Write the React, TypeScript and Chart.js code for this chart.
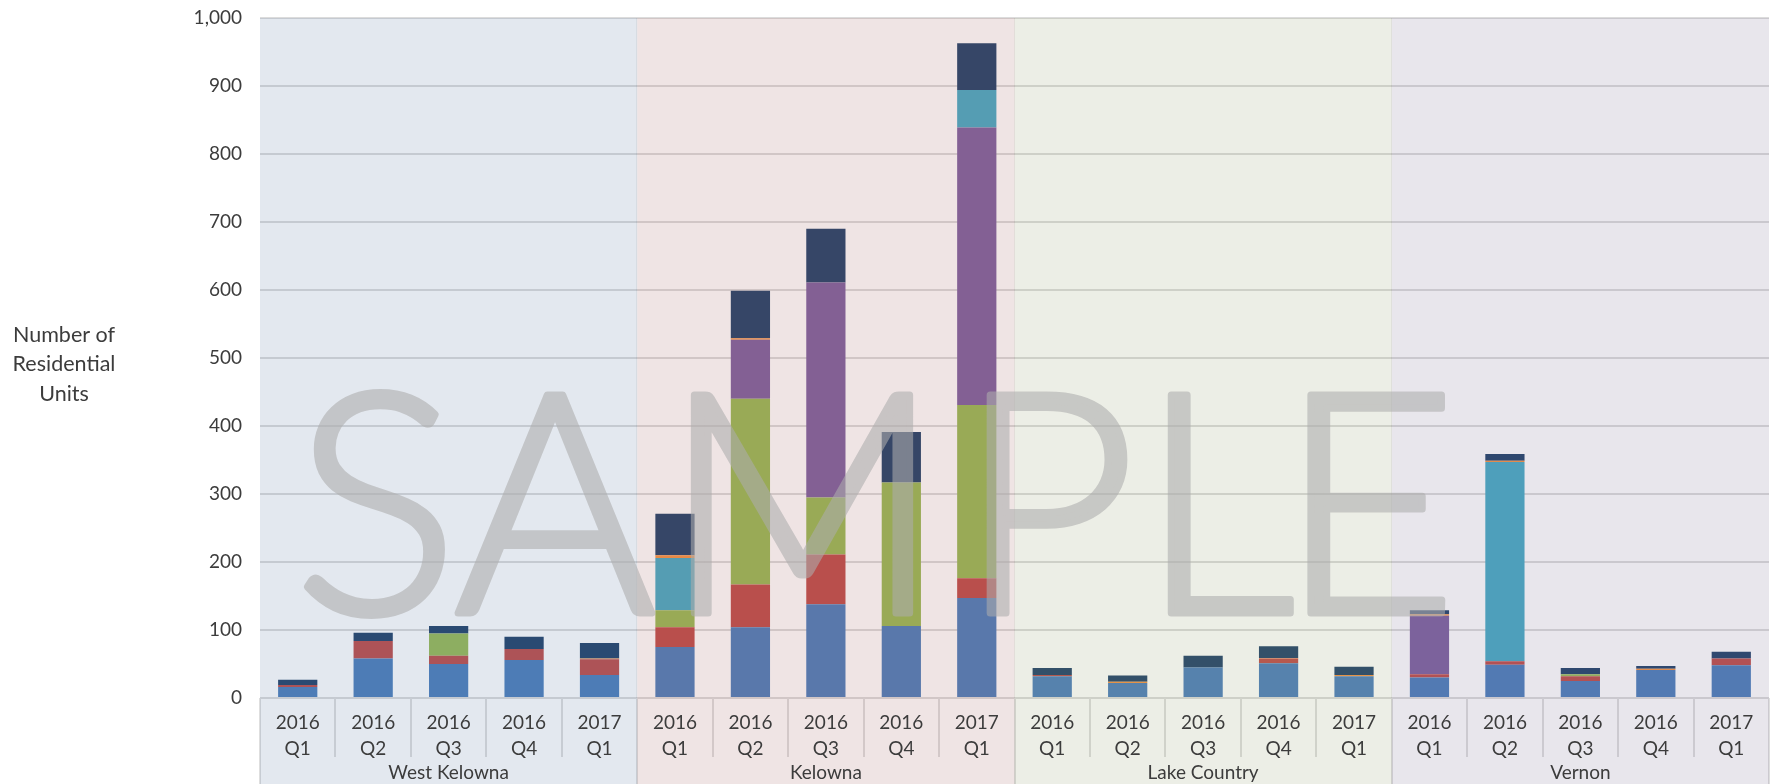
import React, { useEffect, useRef } from "react";
import { Chart, registerables } from "chart.js";

Chart.register(...registerables);

// ---------- data ----------
const groups = ["West Kelowna", "Kelowna", "Lake Country", "Vernon"];
const quarterLabels = [
  ["2016", "Q1"],
  ["2016", "Q2"],
  ["2016", "Q3"],
  ["2016", "Q4"],
  ["2017", "Q1"],
];
const seriesNames = [
  "Single-Detached",
  "Semi-Detached",
  "Row",
  "Apartment",
  "Rental Apartment",
  "Secondary Suite",
  "Other",
];
const singleDetached = [16, 58, 50, 56, 34, 75, 104, 138, 106, 147, 32, 22, 45, 51, 32, 30, 49, 25, 41, 48];
const semiDetached = [3, 26, 12, 16, 23, 29, 63, 73, 0, 29, 2, 0, 0, 7, 0, 5, 5, 7, 0, 10];
const row = [0, 0, 33, 0, 0, 25, 273, 84, 211, 255, 0, 0, 0, 0, 0, 0, 0, 3, 0, 0];
const apartment = [0, 0, 0, 0, 0, 0, 87, 316, 0, 408, 0, 0, 0, 0, 0, 86, 0, 0, 0, 0];
const rentalApartment = [0, 0, 0, 0, 0, 77, 0, 0, 0, 55, 0, 0, 0, 0, 0, 0, 293, 0, 0, 0];
const secondarySuite = [0, 0, 0, 0, 1, 4, 2, 0, 0, 0, 0, 2, 0, 1, 2, 2, 2, 0, 2, 0];
const other = [8, 12, 11, 18, 23, 61, 70, 79, 74, 69, 10, 9, 17, 17, 12, 6, 10, 9, 4, 10];
const seriesValues = [singleDetached, semiDetached, row, apartment, rentalApartment, secondarySuite, other];

const yMax = 1000;
const yStep = 100;
const yTitleLines = ["Number of", "Residential", "Units"];
const watermarkText = "SAMPLE";

// ---------- styles ----------
const seriesColors = ["#4f81bd", "#c0504d", "#9bbb59", "#8064a2", "#4bacc6", "#f79646", "#26466d"];
const groupTints = ["rgb(68,101,148)", "rgb(148,75,75)", "rgb(129,141,88)", "rgb(102,89,128)"];
const tintAlpha = 0.15;
const FONT = "Lato, 'Open Sans', sans-serif";
const TEXT_COLOR = "#3c3c3c";
// watermark letter centres (layout of the decoration)
const wmCenters = [376, 555, 802, 1047, 1217, 1368];
const wmFontSize = 308;
const wmBaseline = 613;

const perGroup = quarterLabels.length;
const xLabels = groups.flatMap(() => quarterLabels);

const bandsPlugin = {
  id: "bands",
  beforeDatasetsDraw(chart: any) {
    const { ctx, chartArea } = chart;
    const n = xLabels.length;
    const catW = (chartArea.right - chartArea.left) / n;
    ctx.save();
    ctx.strokeStyle = "#dedede";
    ctx.lineWidth = 2;
    for (let i = 0; i <= n; i++) {
      const x = Math.round(chartArea.left + i * catW);
      const isGroup = i % perGroup === 0;
      ctx.beginPath();
      ctx.moveTo(x, chartArea.bottom);
      ctx.lineTo(x, isGroup ? chart.height : chartArea.bottom + 59);
      ctx.stroke();
    }
    ctx.restore();
  },
  afterDatasetsDraw(chart: any) {
    const { ctx, chartArea } = chart;
    const n = xLabels.length;
    const catW = (chartArea.right - chartArea.left) / n;
    ctx.save();
    groups.forEach((g, gi) => {
      const x0 = chartArea.left + gi * perGroup * catW;
      const x1 = x0 + perGroup * catW;
      ctx.globalAlpha = tintAlpha;
      ctx.fillStyle = groupTints[gi];
      ctx.fillRect(x0, chartArea.top, x1 - x0, chart.height - chartArea.top);
      ctx.globalAlpha = 0.05;
      ctx.fillStyle = "#000";
      if (gi > 0) ctx.fillRect(Math.round(x0) - 1, chartArea.top, 1, chartArea.bottom - chartArea.top);
    });
    ctx.restore();
  },
  afterDraw(chart: any) {
    const { ctx, chartArea } = chart;
    const n = xLabels.length;
    const catW = (chartArea.right - chartArea.left) / n;
    ctx.save();
    // group labels
    ctx.fillStyle = TEXT_COLOR;
    ctx.font = `19px ${FONT}`;
    ctx.textAlign = "center";
    ctx.textBaseline = "middle";
    groups.forEach((g, gi) => {
      const cx = chartArea.left + (gi + 0.5) * perGroup * catW;
      ctx.fillText(g, cx, chartArea.bottom + 75);
    });
    // y title
    ctx.font = `21.5px ${FONT}`;
    yTitleLines.forEach((t, i) => {
      ctx.fillText(t, 64, 335 + i * 29.5);
    });
    ctx.restore();

    // watermark: drawn opaque offscreen, composited with transparency
    const off = document.createElement("canvas");
    off.width = chart.width;
    off.height = chart.height;
    const o = off.getContext("2d");
    if (!o) return;
    o.font = `300 ${wmFontSize}px ${FONT}`;
    o.textAlign = "center";
    o.textBaseline = "alphabetic";
    o.fillStyle = "#adadad";
    o.strokeStyle = "#adadad";
    o.lineWidth = 7;
    o.lineJoin = "round";
    watermarkText.split("").forEach((ch, i) => {
      o.fillText(ch, wmCenters[i], wmBaseline);
      o.strokeText(ch, wmCenters[i], wmBaseline);
    });
    ctx.save();
    ctx.globalAlpha = 0.58;
    ctx.drawImage(off, 0, 0);
    ctx.restore();
  },
};

export default function App() {
  const ref = useRef<HTMLCanvasElement>(null);
  useEffect(() => {
    if (!ref.current) return;
    const chart = new Chart(ref.current, {
      type: "bar",
      data: {
        labels: xLabels,
        datasets: seriesValues.map((vals, i) => ({
          label: seriesNames[i],
          data: vals,
          backgroundColor: seriesColors[i],
          borderWidth: 0,
          barPercentage: 0.52,
          categoryPercentage: 1,
        })),
      },
      options: {
        animation: false,
        responsive: false,
        maintainAspectRatio: false,
        layout: { padding: { top: 18, right: 7, left: 0, bottom: 0 } },
        plugins: { legend: { display: false }, tooltip: { enabled: false } },
        scales: {
          x: {
            stacked: true,
            grid: { display: false },
            border: { display: false },
            ticks: {
              z: 1,
              color: TEXT_COLOR,
              font: { family: FONT, size: 19, lineHeight: 26 / 19 },
              padding: 4,
              maxRotation: 0,
              autoSkip: false,
            },
            afterFit: (s: any) => {
              s.height = 86;
              s.paddingLeft = 0;
              s.paddingRight = 0;
            },
          },
          y: {
            stacked: true,
            min: 0,
            max: yMax,
            ticks: {
              stepSize: yStep,
              z: 1,
              padding: 18,
              color: TEXT_COLOR,
              font: { family: FONT, size: 19 },
            },
            grid: { color: "#dcdcdc", lineWidth: 2, drawTicks: false },
            border: { display: false },
            afterFit: (s: any) => {
              s.width = 260;
              s.paddingTop = 0;
              s.paddingBottom = 0;
            },
          },
        },
      },
      plugins: [bandsPlugin],
    });
    return () => chart.destroy();
  }, []);
  return (
    <div style={{ position: "fixed", left: 0, top: 0, width: 1776, height: 784, background: "#fff" }}>
      <canvas ref={ref} width={1776} height={784} style={{ width: 1776, height: 784, display: "block" }} />
    </div>
  );
}
